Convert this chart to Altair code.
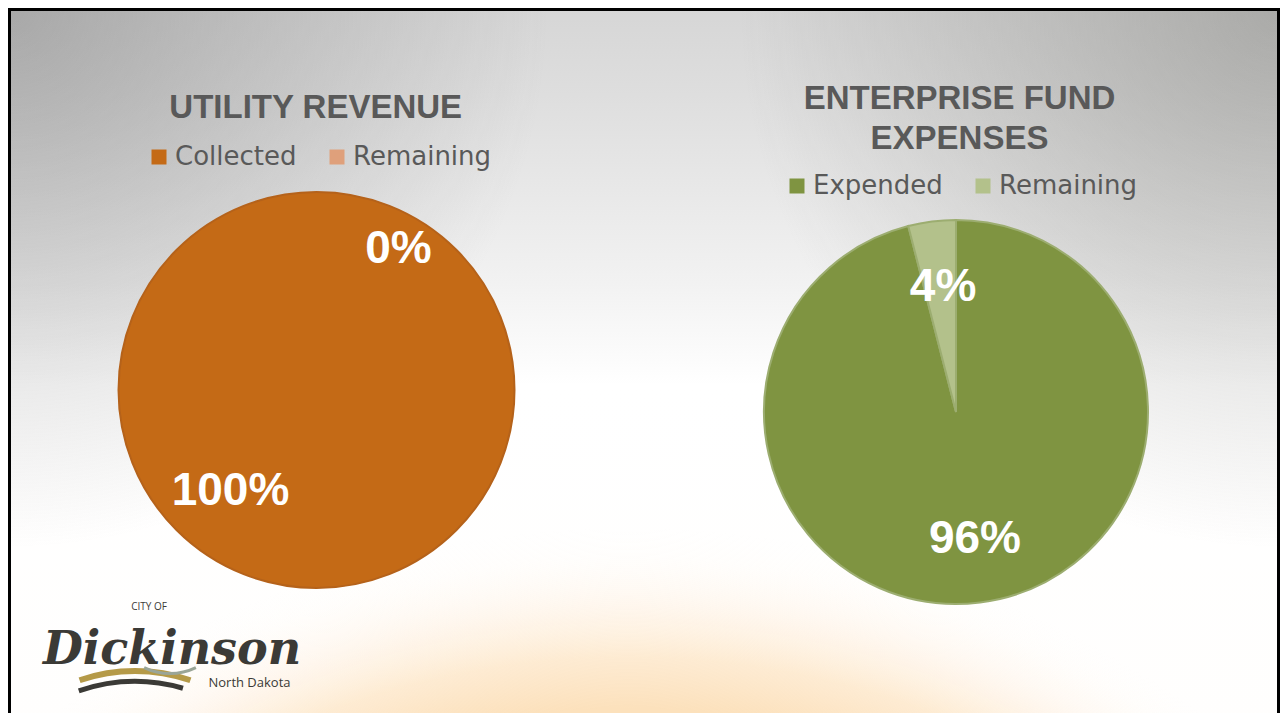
import altair as alt
import pandas as pd
import math

W, H = 1272, 705

# ---- data ----
left_title = ["UTILITY REVENUE"]
left_categories = ["Collected", "Remaining"]
left_values = [100, 0]
left_labels = ["100%", "0%"]
left_colors = ["#C46A16", "#DFA07B"]

right_title = ["ENTERPRISE FUND", "EXPENSES"]
right_categories = ["Expended", "Remaining"]
right_values = [96, 4]
right_labels = ["96%", "4%"]
right_colors = ["#7F9441", "#B3C18B"]

logo_lines = ["CITY OF", "Dickinson", "North Dakota"]

left_df = pd.DataFrame({"category": left_categories, "value": left_values,
                        "label": left_labels, "idx": list(range(len(left_values)))})
right_df = pd.DataFrame({"category": right_categories, "value": right_values,
                         "label": right_labels, "idx": list(range(len(right_values)))})
one = alt.Data(values=[{"a": 1}])

TXT = "#595959"


def grad_rect(x, x2, y, y2, grad):
    return alt.Chart(one).mark_rect(fill=grad).encode(
        x=alt.value(x), x2=alt.value(x2), y=alt.value(y), y2=alt.value(y2))


def stop(c, o):
    return alt.GradientStop(color=c, offset=o)


# ---- background ----
bg = grad_rect(0, W, 0, H + 20, alt.Gradient(
    gradient="linear", x1=0, y1=0, x2=0, y2=1,
    stops=[stop("#D6D6D6", 0), stop("#DEDEDE", 0.12), stop("#F2F2F2", 0.38),
           stop("#FFFFFF", 0.52), stop("#FFFEFD", 1)]))
R = 540
corner_l = grad_rect(-R, R, -R, R, alt.Gradient(
    gradient="radial", x1=0.5, y1=0.5, x2=0.5, y2=0.5, r1=0, r2=0.5,
    stops=[stop("rgba(130,130,130,0.55)", 0), stop("rgba(130,130,130,0)", 1)]))
corner_r = grad_rect(W - R, W + R, -R, R, alt.Gradient(
    gradient="radial", x1=0.5, y1=0.5, x2=0.5, y2=0.5, r1=0, r2=0.5,
    stops=[stop("rgba(134,134,130,0.55)", 0), stop("rgba(134,134,130,0)", 1)]))
G = 1000
gcx, gcy = 620, 1500
glow = grad_rect(gcx - G, gcx + G, gcy - G, gcy + G, alt.Gradient(
    gradient="radial", x1=0.5, y1=0.5, x2=0.5, y2=0.5, r1=0, r2=0.5,
    stops=[stop("rgba(252,225,188,1)", 0), stop("rgba(252,225,188,1)", 0.80),
           stop("rgba(253,228,195,0.75)", 0.85), stop("rgba(254,235,212,0.4)", 0.9),
           stop("rgba(255,245,232,0.1)", 0.95), stop("rgba(255,250,245,0)", 0.98),
           stop("rgba(255,255,255,0)", 1)]))
border = alt.Chart(one).mark_rect(filled=False, stroke="#000000", strokeWidth=3).encode(
    x=alt.value(1.5), x2=alt.value(W - 1.5), y=alt.value(1.5), y2=alt.value(H + 30))

# ---- pies ----
LCX, LCY, LR = 308.5, 382, 198
RCX, RCY, RR = 948, 404, 192


def legend(x, y):
    return alt.Legend(orient="none", legendX=x, legendY=y, direction="horizontal",
                      title=None, symbolType="square", symbolSize=225,
                      symbolStrokeWidth=0, labelFontSize=26, labelFont="DejaVu Sans",
                      labelColor=TXT, labelOffset=3, columnPadding=27, padding=0,
                      labelLimit=400)


left_pie = alt.Chart(left_df).mark_arc(outerRadius=LR, stroke="#B5621A").encode(
    theta=alt.Theta("value:Q", stack=True),
    color=alt.Color("category:N", scale=alt.Scale(domain=left_categories, range=left_colors),
                    legend=legend(138, 136)),
    order=alt.Order("idx:Q"),
    strokeWidth=alt.condition("datum.value > 0", alt.value(2), alt.value(0)),
    x=alt.value(LCX), y=alt.value(LCY))

right_pie = alt.Chart(right_df).mark_arc(outerRadius=RR, stroke="#9CAD70", strokeWidth=2).encode(
    theta=alt.Theta("value:Q", stack=True),
    color=alt.Color("category:N", scale=alt.Scale(domain=right_categories, range=right_colors),
                    legend=legend(776, 165)),
    order=alt.Order("idx:Q"),
    x=alt.value(RCX), y=alt.value(RCY))

LBL = dict(font="Liberation Sans", fontWeight="bold", fontSize=46, color="#FFFFFF")


def pie_text(df, cx, cy, r, dx=0, dy=0):
    return alt.Chart(df).mark_text(radius=r, dx=dx, dy=dy, **LBL).encode(
        theta=alt.Theta("value:Q", stack=True),
        detail="category:N",
        order=alt.Order("idx:Q"),
        text="label:N",
        x=alt.value(cx), y=alt.value(cy))


def pie_text_one(df, cx, cy, r, cat, dx, dy):
    return alt.Chart(df).mark_text(radius=r, dx=dx, dy=dy, **LBL).encode(
        theta=alt.Theta("value:Q", stack=True),
        detail="category:N",
        order=alt.Order("idx:Q"),
        text="label:N",
        opacity=alt.condition(f"datum.category == '{cat}'", alt.value(1), alt.value(0)),
        x=alt.value(cx), y=alt.value(cy))


left_lbl_a = pie_text_one(left_df, LCX, LCY, 126, "Collected", -86, -25)
left_lbl_b = pie_text_one(left_df, LCX, LCY, 126, "Remaining", 82, -15)
right_lbl = pie_text(right_df, RCX, RCY, 127, dx=3, dy=1)

# ---- titles ----
TT = dict(font="Liberation Sans", fontWeight="bold", fontSize=33, color=TXT,
          align="center", baseline="alphabetic")
lt_df = pd.DataFrame({"t": left_title, "line": range(len(left_title))})
rt_df = pd.DataFrame({"t": right_title, "line": range(len(right_title))})
title_l = alt.Chart(lt_df).mark_text(**TT).encode(
    text="t:N", x=alt.value(307.7), y=alt.value(110.3))
title_r = alt.Chart(rt_df).transform_calculate(yy="101.3 + 40 * datum.line").mark_text(**TT).encode(
    text="t:N", x=alt.value(951.5), y=alt.Y("yy:Q", scale=None, axis=None))

# ---- logo ----
LOGO = "#3B3A36"
logo_df = pd.DataFrame({"t": logo_lines})
logo1 = alt.Chart(logo_df).transform_filter("datum.t == 'CITY OF'").mark_text(
    font="Open Sans", fontSize=10, color=LOGO, align="center", baseline="middle").encode(
    text="t:N", x=alt.value(141), y=alt.value(599))
logo2 = alt.Chart(logo_df).transform_filter("datum.t == 'Dickinson'").mark_text(
    font="DejaVu Serif", fontStyle="italic", fontWeight="bold", fontSize=46, color=LOGO,
    align="center", baseline="alphabetic").encode(
    text="t:N", x=alt.value(164), y=alt.value(656))
logo3 = alt.Chart(logo_df).transform_filter("datum.t == 'North Dakota'").mark_text(
    font="Open Sans", fontSize=13, color=LOGO, align="center", baseline="middle").encode(
    text="t:N", x=alt.value(241.5), y=alt.value(675))

TW = 2 * math.pi
wave_gold = alt.Chart(one).mark_arc(innerRadius=168, outerRadius=174, color="#B59A48").encode(
    theta=alt.value(TW - 0.33), theta2=alt.value(TW + 0.33),
    x=alt.value(127), y=alt.value(834))
wave_dark = alt.Chart(one).mark_arc(innerRadius=171, outerRadius=176, color=LOGO).encode(
    theta=alt.value(TW - 0.33), theta2=alt.value(TW + 0.28),
    x=alt.value(127), y=alt.value(847))
wave_gray = alt.Chart(one).mark_arc(innerRadius=58, outerRadius=61, color="#9AA597").encode(
    theta=alt.value(math.pi - 0.45), theta2=alt.value(math.pi + 0.45),
    x=alt.value(162), y=alt.value(606))

chart = alt.layer(
    bg, corner_l, corner_r, glow, border,
    left_pie, right_pie, left_lbl_a, left_lbl_b, right_lbl,
    title_l, title_r, wave_gold, wave_gray, wave_dark, logo1, logo2, logo3,
).resolve_scale(color="independent", theta="independent", opacity="independent"
).resolve_legend(color="independent").properties(
    width=W, height=H, padding=0, autosize=alt.AutoSizeParams(type="none")
).configure_view(strokeWidth=0)

chart.save("out.html", embed_options={"renderer": "svg", "actions": False})
